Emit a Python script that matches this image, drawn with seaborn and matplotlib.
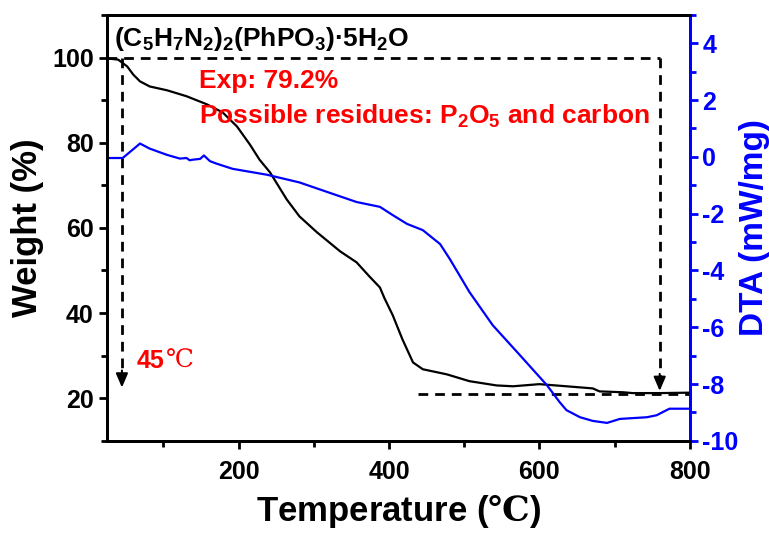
import numpy as np
import pandas as pd
import matplotlib.pyplot as plt
import seaborn as sns
from matplotlib.ticker import MultipleLocator

# TGA curve (weight %)
tga_temp = [25, 40, 52, 60, 69, 82, 105, 131, 158, 179, 198, 215, 228, 242, 264, 281,
            304, 335, 357, 374, 388, 394, 405, 418, 432, 445, 477, 507, 543, 565, 600,
            636, 671, 680, 711, 724, 760, 800]
tga_weight = [99.8, 99.5, 97.9, 96.0, 94.4, 93.2, 92.3, 90.9, 89.0, 87.1, 83.8, 79.6,
              76.0, 73.0, 66.7, 62.7, 59.0, 54.5, 51.9, 48.6, 46.0, 43.5, 39.5, 33.8,
              28.4, 26.8, 25.6, 24.0, 23.0, 22.8, 23.3, 22.8, 22.3, 21.6, 21.4, 21.2,
              21.2, 21.3]

# DTA curve (mW/mg)
dta_temp = [25, 46, 56, 69, 82, 105, 122, 131, 135, 139, 149, 154, 162, 171, 192, 238,
            281, 325, 357, 388, 405, 424, 445, 468, 481, 507, 538, 574, 610, 627, 636,
            654, 671, 690, 707, 743, 756, 764, 773, 800]
dta_val = [-0.04, -0.04, 0.18, 0.47, 0.29, 0.07, -0.06, -0.04, -0.12, -0.10, -0.07,
           0.05, -0.15, -0.24, -0.42, -0.63, -0.90, -1.30, -1.59, -1.76, -2.05, -2.36,
           -2.58, -3.07, -3.60, -4.76, -5.93, -6.98, -8.04, -8.64, -8.92, -9.17, -9.30,
           -9.37, -9.23, -9.17, -9.10, -8.99, -8.87, -8.87]

start_temp = 45
end_temp = 760
residue = 20.9

sns.set_style('ticks')
plt.rcParams['font.family'] = ['Liberation Sans', 'DejaVu Sans']
plt.rcParams['font.weight'] = 'bold'
plt.rcParams['mathtext.fontset'] = 'custom'
plt.rcParams['mathtext.rm'] = 'Liberation Sans:bold'
plt.rcParams['mathtext.sf'] = 'DejaVu Serif'
plt.rcParams['mathtext.default'] = 'rm'
plt.rcParams['axes.unicode_minus'] = False
plt.rcParams['text.color'] = 'black'
plt.rcParams['axes.labelcolor'] = 'black'
plt.rcParams['xtick.color'] = 'black'
plt.rcParams['ytick.color'] = 'black'

fig, ax = plt.subplots(figsize=(7.69, 5.33), dpi=100)
fig.subplots_adjust(left=0.139, right=0.897, top=0.972, bottom=0.173)

sns.lineplot(x=tga_temp, y=tga_weight, ax=ax, color='black', lw=1.6)
ax2 = ax.twinx()
sns.lineplot(x=dta_temp, y=dta_val, ax=ax2, color='blue', lw=1.6)

ax.set_xlim(25, 800)
ax.set_ylim(10, 110)
ax2.set_ylim(-10, 5)
ax.xaxis.set_major_locator(MultipleLocator(200))
ax.xaxis.set_minor_locator(MultipleLocator(100))
ax.yaxis.set_major_locator(MultipleLocator(20))
ax.yaxis.set_minor_locator(MultipleLocator(10))
ax2.yaxis.set_major_locator(MultipleLocator(2))
ax2.yaxis.set_minor_locator(MultipleLocator(1))

for a in (ax, ax2):
    for s in a.spines.values():
        s.set_linewidth(2)
        s.set_color('black')
ax2.spines['right'].set_color('blue')

ax.tick_params(axis='both', which='major', direction='out', length=6, width=2,
               labelsize=18, color='black', labelcolor='black')
ax.tick_params(axis='both', which='minor', direction='out', length=4, width=2)
ax.tick_params(axis='x', pad=8)
ax2.tick_params(axis='y', which='major', direction='out', length=6, width=2,
                labelsize=18, colors='blue', pad=3)
ax2.tick_params(axis='y', which='minor', direction='out', length=4, width=2,
                colors='blue')
for lab in ax.get_xticklabels() + ax.get_yticklabels() + ax2.get_yticklabels():
    lab.set_fontweight('bold')

ax.set_xlabel(r'Temperature ($\mathsf{℃}$)', fontsize=25, fontweight='bold',
              labelpad=6)
ax.set_ylabel('Weight (%)', fontsize=25, fontweight='bold', labelpad=6)
ax2.set_ylabel('DTA (mW/mg)', fontsize=24, fontweight='bold', color='blue',
               labelpad=0)

# guide lines
ax.plot([25, end_temp], [100, 100], ls=(0, (3.5, 2.5)), color='black', lw=2)
ax.plot([start_temp, start_temp], [100, 25], ls=(0, (3.5, 2.5)), color='black', lw=2)
ax.plot([end_temp, end_temp], [100, 24], ls=(0, (3.5, 2.5)), color='black', lw=2)
ax.plot([438, 800], [residue, residue], ls=(0, (3.5, 2.5)), color='black', lw=2)
for t, tip in ((start_temp, 22.5), (end_temp, 21.7)):
    ax.annotate('', xy=(t, tip), xytext=(t, tip + 4),
                arrowprops=dict(arrowstyle='-|>,head_width=0.3,head_length=0.7',
                                color='black', lw=1.5, mutation_scale=12,
                                shrinkA=0, shrinkB=0))

ax.text(35, 104.3, '(C$_5$H$_7$N$_2$)$_2$(PhPO$_3$)·5H$_2$O', fontsize=19,
        fontweight='bold', va='center', ha='left', color='black')
ax.text(148, 94.4, 'Exp: 79.2%', fontsize=19, fontweight='bold', color='red',
        va='center', ha='left')
ax.text(148, 86.2, 'Possible residues: P$_2$O$_5$ and carbon', fontsize=19,
        fontweight='bold', color='red', va='center', ha='left')
ax.text(65, 28.7, '45', fontsize=18, fontweight='bold', color='red',
        va='center', ha='left')
ax.text(103, 28.7, '℃', fontsize=18, fontweight='normal', color='red',
        va='center', ha='left', family=['DejaVu Serif', 'DejaVu Sans'])

fig.savefig('out.png', dpi=100)
